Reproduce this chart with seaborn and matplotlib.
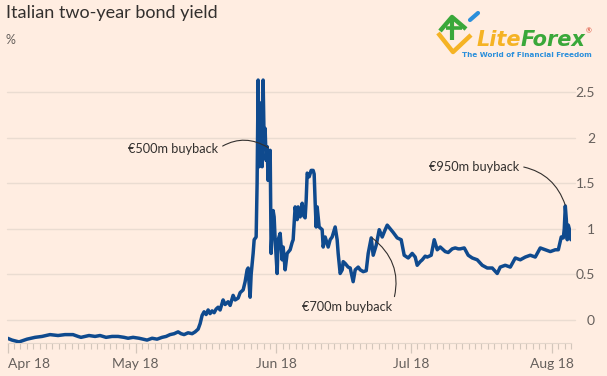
import matplotlib
matplotlib.use("Agg")
import matplotlib.pyplot as plt
import seaborn as sns
import pandas as pd
from matplotlib.ticker import FixedLocator

# ---- data (x = trading-day index since 3 Apr 2018, y = yield %) ----
trade_day = [0.0, 0.70, 1.80, 3.05, 4.30, 5.39, 6.64, 7.89, 8.98, 10.23, 11.02, 11.48, 12.11, 12.73,
             13.67, 14.45, 15.39, 16.33, 17.27, 18.20, 18.83, 19.61, 20.55, 21.17, 21.80, 22.58, 23.36,
             24.14, 24.77, 25.39, 26.02, 26.64, 27.11, 27.58, 28.20, 28.83, 29.30, 29.77, 30.08, 30.39,
             30.70, 31.02, 31.33, 31.64, 31.95, 32.27, 32.58, 32.89, 33.20, 33.67, 33.98, 34.45, 34.77,
             35.23, 35.55, 36.02, 36.33, 36.80, 37.11, 37.42, 37.58, 37.73, 37.89, 38.05, 38.36, 38.52,
             38.83, 38.98, 39.14, 39.30, 39.45, 39.61, 39.77, 39.92, 40.08, 40.23, 40.39, 40.55, 40.70,
             40.86, 41.02, 41.17, 41.33, 41.48, 41.64, 41.80, 41.95, 42.11, 42.27, 42.58, 42.89, 43.05,
             43.36, 43.67, 44.14, 44.45, 44.61, 44.92, 45.23, 45.39, 45.70, 46.02, 46.17, 46.48, 46.64,
             46.80, 47.11, 47.42, 47.73, 47.89, 48.05, 48.20, 48.36, 48.67, 49.14, 49.30, 49.61, 50.08,
             50.39, 50.70, 51.17, 51.48, 51.64, 51.95, 52.27, 52.42, 52.73, 53.20, 53.52, 53.98, 54.30,
             54.77, 55.08, 55.55, 56.02, 56.33, 56.80, 57.11, 57.58, 58.05, 58.52, 58.98, 59.30, 59.77,
             60.23, 60.86, 61.48, 61.95, 62.58, 63.20, 63.67, 63.98, 64.45, 64.77, 65.23, 65.55, 66.17,
             66.64, 67.11, 67.58, 68.05, 68.36, 68.83, 69.45, 69.92, 70.39, 70.70, 71.33, 71.95, 72.58,
             73.36, 74.14, 74.92, 75.70, 76.48, 76.95, 77.73, 78.52, 79.30, 80.08, 80.86, 81.64, 82.42,
             83.20, 83.98, 84.77, 85.55, 86.02, 86.48, 86.80, 86.95, 87.11, 87.27, 87.42, 87.58, 87.73,
             87.89, 88.0]
yield_pct = [-0.20, -0.22, -0.24, -0.21, -0.19, -0.18, -0.16, -0.17, -0.16, -0.16, -0.18, -0.19, -0.18,
             -0.17, -0.18, -0.17, -0.19, -0.18, -0.18, -0.19, -0.20, -0.19, -0.20, -0.21, -0.22, -0.20,
             -0.21, -0.19, -0.18, -0.16, -0.15, -0.13, -0.15, -0.16, -0.14, -0.15, -0.13, -0.10, -0.04,
             0.05, 0.09, 0.06, 0.11, 0.07, 0.10, 0.08, 0.12, 0.14, 0.11, 0.22, 0.17, 0.20, 0.16, 0.27,
             0.22, 0.24, 0.30, 0.33, 0.42, 0.55, 0.57, 0.40, 0.25, 0.50, 0.73, 0.88, 0.91, 1.50, 2.63,
             1.68, 2.10, 2.38, 1.68, 2.63, 1.94, 2.10, 1.75, 1.90, 1.53, 1.75, 1.86, 0.73, 1.00, 1.20,
             1.13, 0.88, 0.70, 0.51, 0.88, 0.95, 0.66, 0.80, 0.55, 0.73, 0.77, 0.85, 0.88, 1.24, 1.10,
             1.24, 1.13, 1.28, 1.15, 1.12, 1.31, 1.61, 1.57, 1.64, 1.64, 1.60, 1.28, 1.02, 1.24, 1.02,
             0.99, 0.80, 0.91, 0.80, 0.88, 0.91, 1.02, 0.88, 0.73, 0.51, 0.55, 0.64, 0.62, 0.58, 0.57,
             0.42, 0.55, 0.58, 0.55, 0.53, 0.54, 0.73, 0.90, 0.71, 0.82, 0.99, 0.91, 0.99, 1.04, 1.00,
             0.96, 0.90, 0.88, 0.71, 0.68, 0.73, 0.69, 0.60, 0.64, 0.66, 0.70, 0.69, 0.71, 0.88, 0.77,
             0.80, 0.77, 0.75, 0.74, 0.78, 0.79, 0.78, 0.78, 0.79, 0.71, 0.68, 0.66, 0.60, 0.57, 0.57,
             0.51, 0.58, 0.60, 0.58, 0.68, 0.66, 0.69, 0.71, 0.69, 0.79, 0.77, 0.75, 0.77, 0.77, 0.91,
             0.90, 1.00, 1.25, 1.10, 0.88, 1.04, 1.00, 0.90, 0.88]

month_tick_days = [0, 20, 42, 63, 85]
month_labels = ["Apr 18", "May 18", "Jun 18", "Jul 18", "Aug 18"]
y_ticks = [0, 0.5, 1, 1.5, 2, 2.5]
y_tick_labels = ["0", "0.5", "1", "1.5", "2", "2.5"]

annotations = [
    # label, text anchor (day, %), point (day, %)
    ("€500m buyback", (32.9, 1.87), (40.7, 1.89)),
    ("€700m buyback", (60.1, 0.14), (56.95, 0.90)),
    ("€950m buyback", (79.9, 1.68), (87.1, 1.26)),
]

df = pd.DataFrame({"day": trade_day, "yield": yield_pct})

# ---- style ----
BG = "#FFEDE1"
LINE = "#0F4A8E"
GRID = "#EADCD1"
TICKTXT = "#66605C"
DARK = "#33302E"

sns.set_theme(style="white")
plt.rcParams["font.family"] = ["Lato", "DejaVu Sans"]

W, H = 607, 376
fig = plt.figure(figsize=(W / 100, H / 100), dpi=100, facecolor=BG)
ax = fig.add_axes([7.5 / W, 1 - 343 / H, (571 - 7.5) / W, (343 - 60) / H])
ax.set_facecolor(BG)

sns.lineplot(data=df, x="day", y="yield", ax=ax, color=LINE, linewidth=2.5,
             estimator=None, sort=False, zorder=3)

ax.set_xlim(0, 88)
ax.set_ylim(-0.252, 2.85)

# y axis on the right, grid lines
ax.yaxis.tick_right()
ax.set_yticks(y_ticks)
ax.set_yticklabels(y_tick_labels)
ax.tick_params(axis="y", length=0, pad=17, labelsize=10, labelcolor=TICKTXT)
for lbl in ax.get_yticklabels():
    lbl.set_horizontalalignment("right")
    lbl.set_x(1.0 + 24 / (571 - 7.5))
ax.tick_params(axis="y", pad=0)
for v in y_ticks:
    ax.axhline(v, color=GRID, lw=1.0, zorder=1, xmin=-0.001, xmax=1.007, clip_on=False)

# x axis
ax.set_xticks(month_tick_days)
ax.set_xticklabels(month_labels)
ax.xaxis.set_minor_locator(FixedLocator(list(range(0, 89))))
ax.tick_params(axis="x", which="major", length=7, width=0.9, color="#D3C6BB",
               labelsize=10, labelcolor=TICKTXT, pad=4, bottom=True)
ax.tick_params(axis="x", which="minor", length=4, width=0.8, color="#D3C6BB", bottom=True)
ax.get_xticklabels()[0].set_horizontalalignment("left")
ax.set_xlabel("")
ax.set_ylabel("")

for s in ["top", "left", "right"]:
    ax.spines[s].set_visible(False)
ax.spines["bottom"].set_color("#E3D6CB")
ax.spines["bottom"].set_linewidth(0.8)

# annotations
rads = [-0.32, 0.35, -0.3]
relposes = [(1.0, 0.55), (1.0, 0.75), (1.0, 0.55)]
for (txt, xytext, xy), rad, rp in zip(annotations, rads, relposes):
    ax.annotate(txt, xy=xy, xytext=xytext, ha="right", va="center", fontsize=9.2,
                color=DARK, zorder=4,
                arrowprops=dict(arrowstyle="-", color=DARK, lw=0.8, relpos=rp,
                                shrinkA=1, shrinkB=0,
                                connectionstyle=f"arc3,rad={rad}"))

# title and unit
fig.text(6 / W, 1 - 13 / H, "Italian two-year bond yield", fontsize=13, color=DARK,
         ha="left", va="center")
fig.text(6 / W, 1 - 40 / H, "%", fontsize=9, color=TICKTXT, ha="left", va="center")

# watermark logo (approximate)
def P(x, y):
    return x / W, 1 - y / H

GREEN = "#3AA83A"
YELLOW = "#F5B324"
BLUE = "#2B8FDB"
xs, ys = zip(*[P(438, 33), P(453, 52), P(471, 35)])
fig.add_artist(plt.Line2D(xs, ys, color=YELLOW, lw=3.2, solid_capstyle="butt"))
xs, ys = zip(*[P(440, 31), P(452, 17), P(466, 29)])
fig.add_artist(plt.Line2D(xs, ys, color=GREEN, lw=3.2, solid_capstyle="butt"))
xs, ys = zip(*[P(452, 17), P(452, 40)])
fig.add_artist(plt.Line2D(xs, ys, color=GREEN, lw=3.0, solid_capstyle="butt"))
xs, ys = zip(*[P(446, 28), P(462, 28)])
fig.add_artist(plt.Line2D(xs, ys, color=GREEN, lw=2.6, solid_capstyle="butt"))
xs, ys = zip(*[P(470, 20), P(478, 13)])
fig.add_artist(plt.Line2D(xs, ys, color=BLUE, lw=3.0, solid_capstyle="round"))
x0, y0 = P(477, 40)
t1 = fig.text(x0, y0, "Lite", fontsize=15, fontweight="bold", fontstyle="italic",
              color=YELLOW, ha="left", va="center", family=["DejaVu Sans"])
fig.canvas.draw()
bb = t1.get_window_extent()
fig.text(bb.x1 / W - 1 / W, y0, "Forex", fontsize=15, fontweight="bold", fontstyle="italic",
         color=GREEN, ha="left", va="center", family=["DejaVu Sans"])
fig.text(*P(586, 31), "®", fontsize=5, color="#D9412B", ha="left", va="center")
fig.text(*P(527, 55), "The World of Financial Freedom", fontsize=5.2, fontweight="bold",
         color=BLUE, ha="center", va="center", family=["DejaVu Sans"])

fig.savefig("out.png", dpi=100, facecolor=BG)
